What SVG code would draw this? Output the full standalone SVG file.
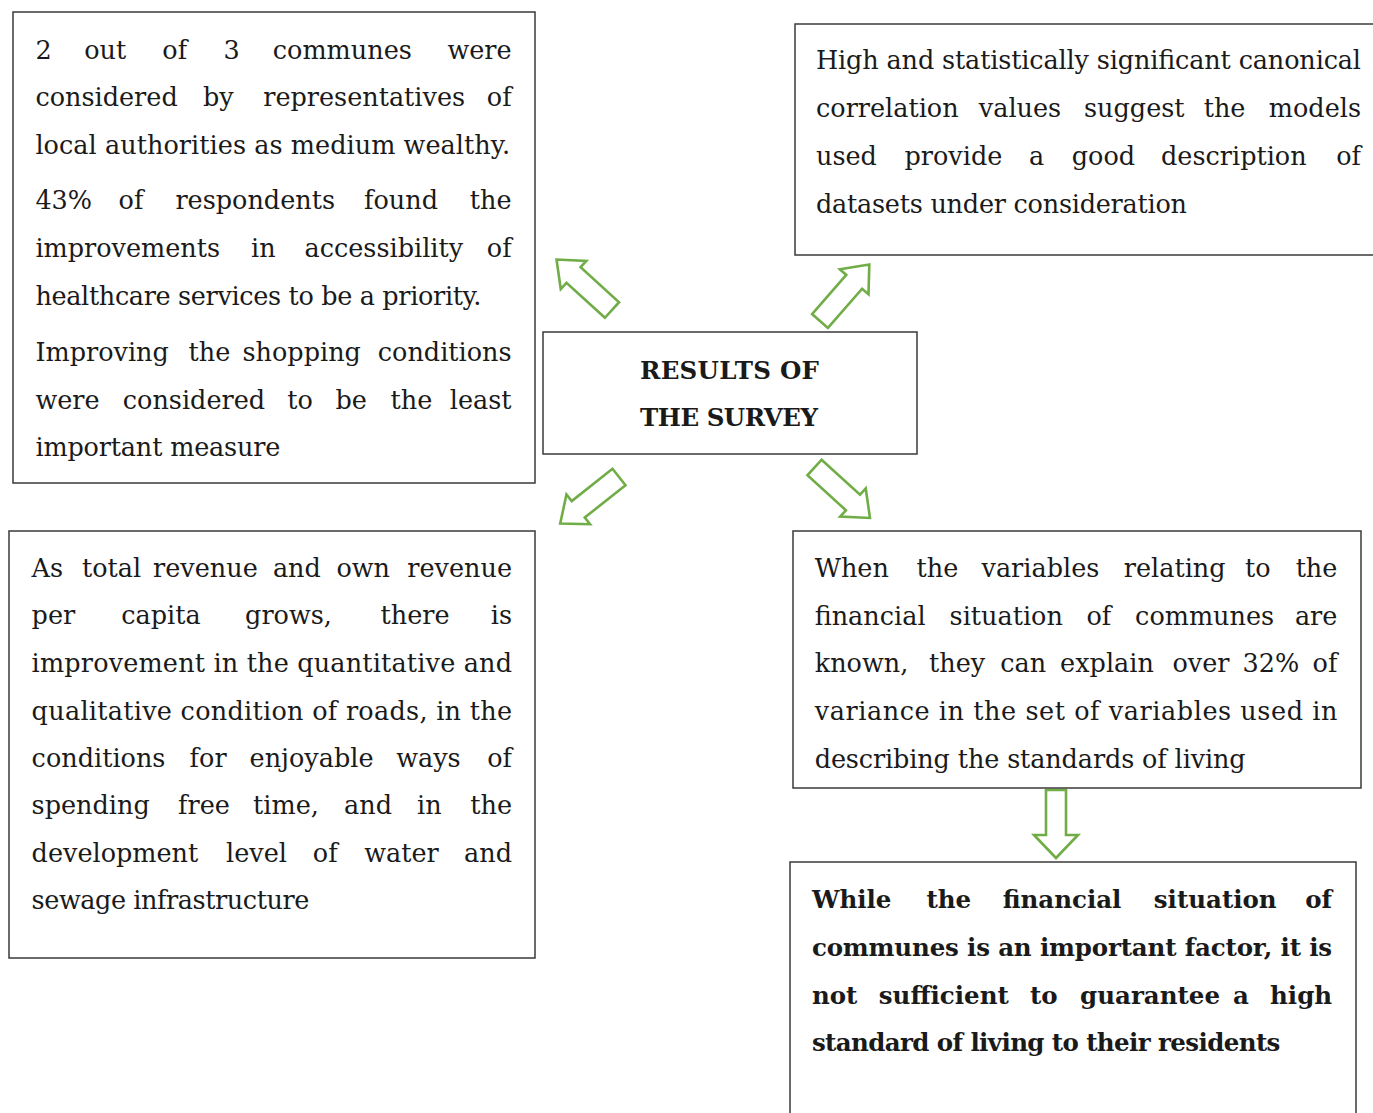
<svg xmlns="http://www.w3.org/2000/svg" xmlns:xlink="http://www.w3.org/1999/xlink" width="1373" height="1113" viewBox="0 0 1373 1113">
<style>
.box{fill:#fff;stroke:#3a3a3a;stroke-width:1.5}
.t{font-family:"DejaVu Serif","Liberation Serif",serif;font-size:25.5px;fill:#1a1a1a}
.b{font-family:"DejaVu Serif","Liberation Serif",serif;font-size:24.5px;font-weight:bold;fill:#1a1a1a}
.arr{fill:#fff;stroke:#70AD47;stroke-width:2.6;stroke-linejoin:miter}
.e{text-anchor:end}
</style>
<defs>
<path id="diag" d="M0,-10.5 H52 V-19 L75,0 L52,19 V10.5 H0 Z"/>
<path id="down" d="M0,-10 H45 V-22 L68,0 L45,22 V10 H0 Z"/>
</defs>
<rect width="1373" height="1113" fill="#fff"/>

<g id="connectors">
<use xlink:href="#diag" class="arr" transform="translate(612,310) rotate(-137.7)"/>
<use xlink:href="#diag" class="arr" transform="translate(820,321) rotate(-48.9)"/>
<use xlink:href="#diag" class="arr" transform="translate(619,477) rotate(141.6)"/>
<use xlink:href="#diag" class="arr" transform="translate(814.5,467.5) rotate(42.3)"/>
<use xlink:href="#down" class="arr" transform="translate(1056,790) rotate(90)"/>
</g>

<g id="node-results">
<rect class="box" x="543" y="332" width="374" height="122"/>
<text class="b" x="729.5" y="379" text-anchor="middle" textLength="179" lengthAdjust="spacing">RESULTS OF</text>
<text class="b" x="729" y="426" text-anchor="middle" textLength="178" lengthAdjust="spacing">THE SURVEY</text>
</g>

<g id="node-wealth">
<rect class="box" x="13" y="12" width="522" height="471"/>
<text class="t" y="59"><tspan x="35.4">2</tspan><tspan x="84.2">out</tspan><tspan x="162.3">of</tspan><tspan x="223.6">3</tspan><tspan x="272.8">communes</tspan><tspan x="511.6" class="e">were</tspan></text>
<text class="t" y="106"><tspan x="35.4">considered</tspan><tspan x="203">by</tspan><tspan x="263.2">representatives</tspan><tspan x="511.6" class="e">of</tspan></text>
<text class="t" x="35.4" y="154" textLength="474.6" lengthAdjust="spacing">local authorities as medium wealthy.</text>
<text class="t" y="209"><tspan x="35.4">43%</tspan><tspan x="118.6">of</tspan><tspan x="175.4">respondents</tspan><tspan x="364">found</tspan><tspan x="511.6" class="e">the</tspan></text>
<text class="t" y="257"><tspan x="35.4">improvements</tspan><tspan x="251.1">in</tspan><tspan x="304.5">accessibility</tspan><tspan x="511.6" class="e">of</tspan></text>
<text class="t" x="35.4" y="305" textLength="446" lengthAdjust="spacing">healthcare services to be a priority.</text>
<text class="t" y="361"><tspan x="35.4">Improving</tspan><tspan x="188.5">the</tspan><tspan x="242.5">shopping</tspan><tspan x="511.6" class="e">conditions</tspan></text>
<text class="t" y="409"><tspan x="35.4">were</tspan><tspan x="122.8">considered</tspan><tspan x="287.3">to</tspan><tspan x="335.4">be</tspan><tspan x="390.5">the</tspan><tspan x="511.6" class="e">least</tspan></text>
<text class="t" x="35.4" y="456" textLength="245" lengthAdjust="spacing">important measure</text>
</g>

<g id="node-canonical">
<rect class="box" x="795" y="24" width="600" height="231"/>
<text class="t" x="816" y="69" textLength="545" lengthAdjust="spacing">High and statistically significant canonical</text>
<text class="t" y="117"><tspan x="816">correlation</tspan><tspan x="978.8">values</tspan><tspan x="1084">suggest</tspan><tspan x="1203.7">the</tspan><tspan x="1361" class="e">models</tspan></text>
<text class="t" y="165"><tspan x="816">used</tspan><tspan x="904.5">provide</tspan><tspan x="1029">a</tspan><tspan x="1071.8">good</tspan><tspan x="1161">description</tspan><tspan x="1361" class="e">of</tspan></text>
<text class="t" x="816" y="213" textLength="371" lengthAdjust="spacing">datasets under consideration</text>
</g>

<g id="node-revenue">
<rect class="box" x="9" y="531" width="526" height="427"/>
<text class="t" y="577"><tspan x="31.6">As</tspan><tspan x="81.9">total</tspan><tspan x="153.1">revenue</tspan><tspan x="272.9">and</tspan><tspan x="336.4">own</tspan><tspan x="512" class="e">revenue</tspan></text>
<text class="t" y="624"><tspan x="31.6">per</tspan><tspan x="121.2">capita</tspan><tspan x="245.1">grows,</tspan><tspan x="380.5">there</tspan><tspan x="512" class="e">is</tspan></text>
<text class="t" x="31.6" y="672" textLength="480.4" lengthAdjust="spacing">improvement in the quantitative and</text>
<text class="t" x="31.6" y="720" textLength="480.4" lengthAdjust="spacing">qualitative condition of roads, in the</text>
<text class="t" y="767"><tspan x="31.6">conditions</tspan><tspan x="189.6">for</tspan><tspan x="249.6">enjoyable</tspan><tspan x="396.2">ways</tspan><tspan x="512" class="e">of</tspan></text>
<text class="t" y="814"><tspan x="31.6">spending</tspan><tspan x="178.1">free</tspan><tspan x="253.1">time,</tspan><tspan x="344.1">and</tspan><tspan x="417">in</tspan><tspan x="512" class="e">the</tspan></text>
<text class="t" y="862"><tspan x="31.6">development</tspan><tspan x="226">level</tspan><tspan x="312.8">of</tspan><tspan x="364.2">water</tspan><tspan x="512" class="e">and</tspan></text>
<text class="t" x="31.6" y="909" textLength="277.7" lengthAdjust="spacing">sewage infrastructure</text>
</g>

<g id="node-financial">
<rect class="box" x="793" y="531" width="568" height="257"/>
<text class="t" y="577"><tspan x="814.7">When</tspan><tspan x="916.6">the</tspan><tspan x="981.5">variables</tspan><tspan x="1123.8">relating</tspan><tspan x="1244.9">to</tspan><tspan x="1337.4" class="e">the</tspan></text>
<text class="t" y="625"><tspan x="814.7">financial</tspan><tspan x="949.6">situation</tspan><tspan x="1086.4">of</tspan><tspan x="1135.1">communes</tspan><tspan x="1337.4" class="e">are</tspan></text>
<text class="t" y="672"><tspan x="814.7">known,</tspan><tspan x="929">they</tspan><tspan x="1000.2">can</tspan><tspan x="1060.1">explain</tspan><tspan x="1172.5">over</tspan><tspan x="1242.6">32%</tspan><tspan x="1337.4" class="e">of</tspan></text>
<text class="t" x="814.7" y="720" textLength="522.7" lengthAdjust="spacing">variance in the set of variables used in</text>
<text class="t" x="814.7" y="768" textLength="430.9" lengthAdjust="spacing">describing the standards of living</text>
</g>

<g id="node-conclusion">
<rect class="box" x="790" y="862" width="566" height="300"/>
<text class="b" y="908"><tspan x="811.9">While</tspan><tspan x="926.4">the</tspan><tspan x="1002.7">financial</tspan><tspan x="1153.8">situation</tspan><tspan x="1332.1" class="e">of</tspan></text>
<text class="b" x="811.9" y="956" textLength="520.2" lengthAdjust="spacing">communes is an important factor, it is</text>
<text class="b" y="1004"><tspan x="811.9">not</tspan><tspan x="878.8">sufficient</tspan><tspan x="1029.9">to</tspan><tspan x="1080.1">guarantee</tspan><tspan x="1233.1">a</tspan><tspan x="1332.1" class="e">high</tspan></text>
<text class="b" x="811.9" y="1051" textLength="468.5" lengthAdjust="spacing">standard of living to their residents</text>
</g>
</svg>
